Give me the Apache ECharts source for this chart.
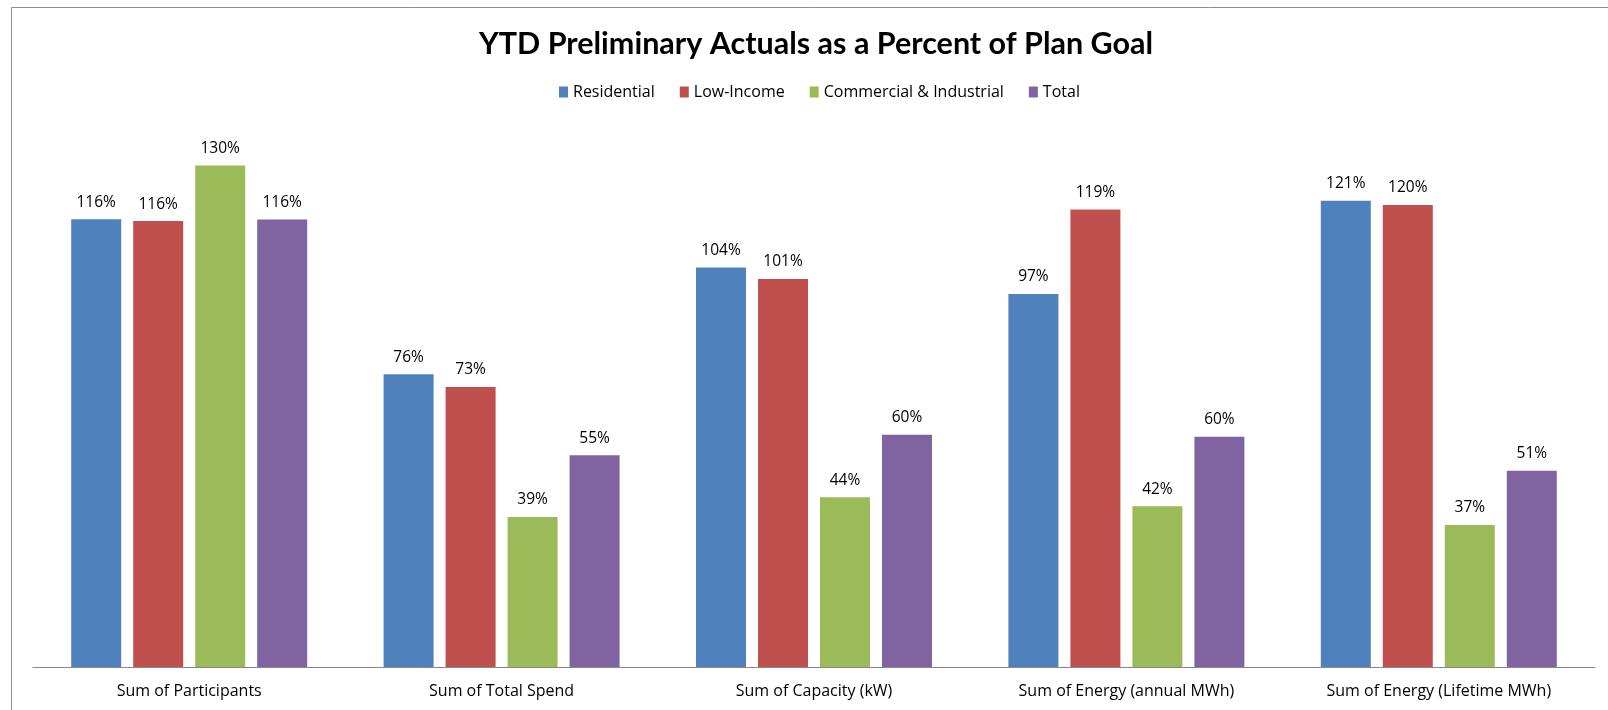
<!DOCTYPE html>
<html><head><meta charset="utf-8">
<script src="https://cdn.jsdelivr.net/npm/echarts@6/dist/echarts.min.js"></script>
<style>html,body{margin:0;padding:0;background:#fff}#c{width:1608px;height:710px}</style>
</head><body><div id="c"></div>
<script>
const categories = ["Sum of Participants","Sum of Total Spend","Sum of Capacity (kW)","Sum of Energy (annual MWh)","Sum of Energy (Lifetime MWh)"];
const residential = [116.1, 75.9, 103.6, 96.7, 120.9];
const lowIncome = [115.6, 72.6, 100.6, 118.6, 119.8];
const commercial = [130.0, 38.9, 44.0, 41.7, 36.8];
const total = [116.0, 54.9, 60.2, 59.7, 50.9];
const seriesNames = ["Residential","Low-Income","Commercial & Industrial","Total"];
const colors = ["#4F81BD","#C0504D","#9BBB59","#8064A2"];
const font = "'Open Sans', Lato, sans-serif";
const chart = echarts.init(document.getElementById('c'));
const mk = (name, data, i) => ({
  name, type: 'bar', data, barWidth: 50, barGap: '24%',
  itemStyle: {color: colors[i]},
  label: {show: true, position: 'top', distance: 9, color: '#000', fontSize: 15.5, fontFamily: font,
    formatter: p => Math.round(p.value) + '%'}
});
chart.setOption({
  animation: false,
  title: {text: 'YTD Preliminary Actuals as a Percent of Plan Goal', left: 474, top: 24,
    textStyle: {fontSize: 30.5, fontWeight: 'bold', color: '#000', fontFamily: "Lato, 'Open Sans', sans-serif"}},
  legend: {top: 79, left: 554, itemWidth: 9, itemHeight: 11, itemGap: 25,
    icon: 'rect', textStyle: {fontSize: 16, color: '#000', fontFamily: font}},
  graphic: [{type: 'rect', shape: {x: 11.5, y: 7.5, width: 1700, height: 800}, style: {fill: 'none', stroke: '#8c8c8c', lineWidth: 1}, z: -1}],
  grid: {left: 33, right: 13, top: 127, bottom: 43},
  xAxis: {type: 'category', data: categories,
    axisLine: {lineStyle: {color: '#888', width: 1}}, axisTick: {show: false},
    axisLabel: {color: '#000', fontSize: 16, fontFamily: font, margin: 16}},
  yAxis: {type: 'value', min: 0, max: 140, show: false, splitLine: {show: false}},
  series: [mk(seriesNames[0], residential, 0), mk(seriesNames[1], lowIncome, 1), mk(seriesNames[2], commercial, 2), mk(seriesNames[3], total, 3)]
});
</script></body></html>
